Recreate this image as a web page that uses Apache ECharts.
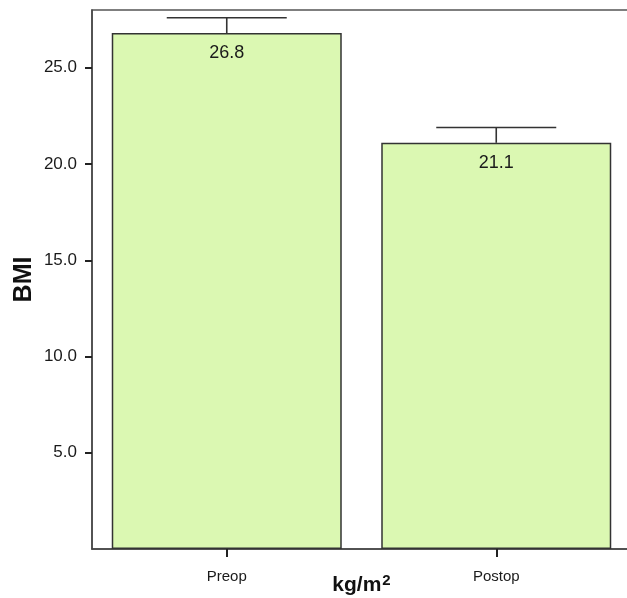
<!DOCTYPE html>
<html>
<head>
<meta charset="utf-8">
<script src="https://cdn.jsdelivr.net/npm/echarts@6/dist/echarts.min.js"></script>
<style>
  html, body { margin: 0; padding: 0; background: #ffffff; }
  #chart { width: 627px; height: 598px; }
</style>
</head>
<body>
<div id="chart"></div>
<script>
// Mean BMI before and after surgery, with upper error bars
const categories = ['Preop', 'Postop'];
const meanBMI = [26.8, 21.1];
const upperBMI = [27.6, 21.9];
const yTicks = [5, 10, 15, 20, 25];

const chart = echarts.init(document.getElementById('chart'), null, { renderer: 'canvas' });

const fontFamily = 'Arial, "Liberation Sans", sans-serif';
const textColor = '#1a1a1a';

chart.setOption({
  backgroundColor: '#ffffff',
  animation: false,
  grid: {
    left: 92, top: 10, width: 539, height: 539,
    containLabel: false,
    outerBoundsMode: 'none',
    show: true, borderColor: '#555555', borderWidth: 1.5,
    backgroundColor: 'transparent'
  },
  xAxis: {
    type: 'category',
    data: categories,
    boundaryGap: true,
    axisLine: { show: true, lineStyle: { color: '#444444', width: 1.5 } },
    axisTick: { show: true, alignWithLabel: true, length: 8, lineStyle: { color: '#222222', width: 2 } },
    axisLabel: { margin: 20, fontSize: 15, color: textColor, fontFamily: fontFamily },
    splitLine: { show: false },
    name: '{a|kg/m}{b|2}',
    nameLocation: 'middle',
    nameGap: 24,
    nameMoveOverlap: false,
    nameTextStyle: {
      rich: {
        a: { fontSize: 21, fontWeight: 'bold', color: '#111111', fontFamily: fontFamily },
        b: { fontSize: 15, fontWeight: 'bold', color: '#111111', fontFamily: fontFamily, padding: [0, 0, 9, 1] }
      }
    }
  },
  yAxis: {
    type: 'value',
    min: 0,
    max: 28,
    interval: 5,
    axisLine: { show: true, lineStyle: { color: '#444444', width: 1.5 } },
    axisTick: { show: true, length: 7, customValues: yTicks, lineStyle: { color: '#222222', width: 2 } },
    axisLabel: {
      margin: 15, fontSize: 17, color: textColor, fontFamily: fontFamily,
      customValues: yTicks,
      formatter: v => v.toFixed(1)
    },
    splitLine: { show: false },
    name: 'BMI',
    nameLocation: 'middle',
    nameGap: 55,
    nameMoveOverlap: false,
    nameTextStyle: { fontSize: 25, fontWeight: 'bold', color: '#111111', fontFamily: fontFamily }
  },
  series: [
    {
      type: 'bar',
      data: meanBMI,
      barWidth: 230,
      itemStyle: { color: '#dbf8b2', borderColor: '#333333', borderWidth: 1.5 },
      label: {
        show: true,
        position: 'insideTop',
        distance: 11,
        fontSize: 18,
        color: textColor,
        fontFamily: fontFamily,
        formatter: p => p.value.toFixed(1)
      },
      z: 2
    },
    {
      type: 'custom',
      data: categories.map((c, i) => [i, meanBMI[i], upperBMI[i]]),
      renderItem: function (params, api) {
        const base = api.coord([api.value(0), api.value(1)]);
        const top = api.coord([api.value(0), api.value(2)]);
        const half = 60;
        const style = { stroke: '#333333', lineWidth: 1.6 };
        return {
          type: 'group',
          children: [
            { type: 'line', shape: { x1: base[0], y1: base[1], x2: top[0], y2: top[1] }, style: style },
            { type: 'line', shape: { x1: top[0] - half, y1: top[1], x2: top[0] + half, y2: top[1] }, style: style }
          ]
        };
      },
      z: 3
    }
  ]
});
</script>
</body>
</html>
